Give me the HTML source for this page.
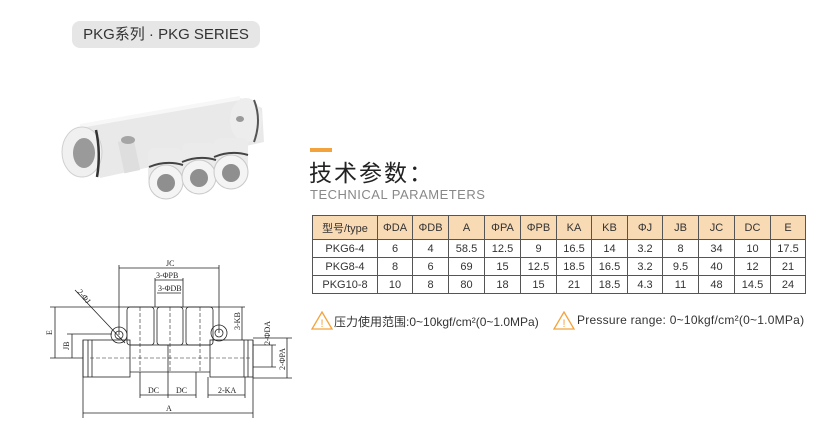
<!DOCTYPE html>
<html><head><meta charset="utf-8"><style>
body{margin:0;width:831px;height:441px;background:#fff;position:relative;font-family:"Liberation Sans","Noto Sans CJK SC",sans-serif;overflow:hidden}
.pill{position:absolute;left:72px;top:21px;width:188px;height:27px;background:#e6e6e6;border-radius:8px;font-size:15px;color:#333;line-height:27px;text-align:center}
.bar{position:absolute;left:310px;top:148px;width:22px;height:4px;background:#f3a33c}
.t1{position:absolute;left:309px;top:154px;font-size:23px;color:#222;letter-spacing:2px}
.t2{position:absolute;left:310px;top:187px;font-size:13px;color:#888;letter-spacing:0.5px}
table{position:absolute;left:312px;top:215px;border-collapse:collapse;font-size:11px;color:#333}
td{border:1px solid #555;text-align:center;height:17px;padding:0}
tr.h td{background:#f8dab5;height:23px}
.p{position:absolute;top:313px;font-size:12px;color:#333;white-space:nowrap}
</style></head><body>
<div class="pill">PKG系列 · PKG SERIES</div>

<svg style="position:absolute;left:0;top:0" width="300" height="441">
<!-- product photo -->
<g>
<path d="M80,126 L240,98 L262,108 L264,142 L100,178 Z" fill="#e9e9e9"/>
<path d="M80,126 L240,98" stroke="#f7f7f7" stroke-width="4"/>
<rect x="121" y="140" width="16" height="32" fill="#dedede" transform="rotate(-12 129 156)"/>
<ellipse cx="128" cy="140" rx="7" ry="4" fill="#a5a5a5"/>
<ellipse cx="246" cy="120" rx="16" ry="22" fill="#ededed"/>
<ellipse cx="240" cy="119" rx="4" ry="3" fill="#999"/>
<path d="M254,100 Q262,120 254,142" stroke="#555" stroke-width="2" fill="none"/>
<ellipse cx="82" cy="152" rx="20" ry="25" fill="#f0f0f0" stroke="#d0d0d0"/>
<ellipse cx="84" cy="153" rx="11" ry="15" fill="#9a9a9a"/>
<path d="M96,130 Q101,153 97,177" stroke="#333" stroke-width="2.5" fill="none"/>
<g fill="#ebebeb">
<rect x="148" y="148" width="34" height="36" rx="6"/>
<rect x="182" y="143" width="34" height="38" rx="6"/>
<rect x="214" y="138" width="34" height="38" rx="6"/>
</g>
<g fill="#f4f4f4" stroke="#c8c8c8"><circle cx="166" cy="182" r="17"/><circle cx="199" cy="177" r="17"/><circle cx="231" cy="172" r="17"/></g>
<g fill="#8f8f8f"><circle cx="166" cy="183" r="9"/><circle cx="199" cy="178" r="9"/><circle cx="231" cy="173" r="9"/></g>
<g stroke="#444" stroke-width="2" fill="none"><path d="M149,167 Q166,160 183,165"/><path d="M182,162 Q199,155 216,160"/><path d="M214,157 Q231,150 248,155"/></g>
</g>
<!-- drawing -->
<g stroke="#222" stroke-width="0.8" fill="none">
<rect x="83" y="340" width="47" height="37"/>
<rect x="210" y="340" width="43" height="37"/>
<line x1="88" y1="340" x2="88" y2="377"/><line x1="92" y1="340" x2="92" y2="377"/>
<line x1="244" y1="340" x2="244" y2="377"/><line x1="248" y1="340" x2="248" y2="377"/>
<line x1="130" y1="345" x2="210" y2="345"/><line x1="130" y1="372" x2="210" y2="372"/>
<rect x="127" y="307" width="27" height="38" rx="3"/>
<rect x="157" y="307" width="26" height="38" rx="3"/>
<rect x="186" y="307" width="27" height="38" rx="3"/>
<circle cx="119" cy="335" r="8"/><circle cx="119" cy="335" r="4"/>
<circle cx="219" cy="333" r="8"/><circle cx="219" cy="333" r="4"/>
<line x1="75" y1="290" x2="125" y2="343"/>
<line x1="83" y1="340" x2="83" y2="418"/><line x1="253" y1="340" x2="253" y2="418"/>
<line x1="83" y1="413" x2="253" y2="413"/>
<line x1="140" y1="372" x2="140" y2="398"/><line x1="168" y1="345" x2="168" y2="398"/><line x1="196" y1="372" x2="196" y2="398"/>
<line x1="140" y1="395" x2="196" y2="395"/>
<line x1="208" y1="377" x2="208" y2="398"/><line x1="245" y1="377" x2="245" y2="398"/>
<line x1="208" y1="395" x2="245" y2="395"/>
<line x1="119" y1="265" x2="119" y2="335"/><line x1="219" y1="265" x2="219" y2="333"/>
<line x1="119" y1="268" x2="219" y2="268"/>
<line x1="155" y1="278" x2="155" y2="307"/><line x1="183" y1="278" x2="183" y2="307"/>
<line x1="155" y1="280" x2="183" y2="280"/><line x1="157" y1="293" x2="181" y2="293"/>
<line x1="50" y1="307" x2="245" y2="307"/>
<line x1="55" y1="307" x2="55" y2="358"/><line x1="50" y1="358" x2="83" y2="358"/>
<line x1="67" y1="334" x2="112" y2="334"/><line x1="72" y1="334" x2="72" y2="358"/>
<line x1="242" y1="307" x2="242" y2="340"/>
<line x1="253" y1="338" x2="292" y2="338"/><line x1="253" y1="378" x2="292" y2="378"/>
<line x1="287" y1="338" x2="287" y2="378"/>
<line x1="253" y1="345" x2="276" y2="345"/><line x1="253" y1="367" x2="276" y2="367"/>
<line x1="272" y1="345" x2="272" y2="367"/>
</g>
<g stroke="#222" stroke-width="0.6" stroke-dasharray="4,2"><line x1="90" y1="358" x2="250" y2="358"/><line x1="140" y1="307" x2="140" y2="372"/><line x1="170" y1="307" x2="170" y2="372"/><line x1="200" y1="307" x2="200" y2="372"/></g>
<g font-family="Liberation Serif,serif" font-size="8" fill="#222">
<text x="166" y="266">JC</text><text x="156" y="278">3-ΦPB</text><text x="158" y="291">3-ΦDB</text>
<text x="148" y="393">DC</text><text x="176" y="393">DC</text><text x="218" y="393">2-KA</text>
<text x="166" y="411">A</text>
<text x="52" y="335" transform="rotate(-90 52 335)">E</text>
<text x="69" y="350" transform="rotate(-90 69 350)">JB</text>
<text x="240" y="330" transform="rotate(-90 240 330)">3-KB</text>
<text x="270" y="345" transform="rotate(-90 270 345)">2-ΦDA</text>
<text x="285" y="370" transform="rotate(-90 285 370)">2-ΦPA</text>
<text x="77" y="292" transform="rotate(50 77 292)">2-ΦJ</text>
</g>
</svg>

<div class="bar"></div>
<div class="t1">技术参数：</div>
<div class="t2">TECHNICAL PARAMETERS</div>
<table>
<colgroup><col style="width:65px"><col style="width:35px"><col style="width:36px"><col style="width:36px"><col style="width:36px"><col style="width:36px"><col style="width:35px"><col style="width:36px"><col style="width:35px"><col style="width:36px"><col style="width:36px"><col style="width:36px"><col style="width:35px"></colgroup>
<tr class="h"><td>型号/type</td><td>ΦDA</td><td>ΦDB</td><td>A</td><td>ΦPA</td><td>ΦPB</td><td>KA</td><td>KB</td><td>ΦJ</td><td>JB</td><td>JC</td><td>DC</td><td>E</td></tr>
<tr><td>PKG6-4</td><td>6</td><td>4</td><td>58.5</td><td>12.5</td><td>9</td><td>16.5</td><td>14</td><td>3.2</td><td>8</td><td>34</td><td>10</td><td>17.5</td></tr>
<tr><td>PKG8-4</td><td>8</td><td>6</td><td>69</td><td>15</td><td>12.5</td><td>18.5</td><td>16.5</td><td>3.2</td><td>9.5</td><td>40</td><td>12</td><td>21</td></tr>
<tr><td>PKG10-8</td><td>10</td><td>8</td><td>80</td><td>18</td><td>15</td><td>21</td><td>18.5</td><td>4.3</td><td>11</td><td>48</td><td>14.5</td><td>24</td></tr>
</table>
<svg style="position:absolute;left:311px;top:311px" width="22" height="19"><path d="M11,1 L21,18 L1,18 Z" fill="none" stroke="#f3a33c" stroke-width="1.3"/><text x="9.5" y="16" font-size="11" fill="#f3a33c">!</text></svg>
<div class="p" style="left:334px">压力使用范围:0~10kgf/cm²(0~1.0MPa)</div>
<svg style="position:absolute;left:553px;top:311px" width="22" height="19"><path d="M11,1 L21,18 L1,18 Z" fill="none" stroke="#f3a33c" stroke-width="1.3"/><text x="9.5" y="16" font-size="11" fill="#f3a33c">!</text></svg>
<div class="p" style="left:577px;letter-spacing:0.25px">Pressure range: 0~10kgf/cm²(0~1.0MPa)</div>
</body></html>
